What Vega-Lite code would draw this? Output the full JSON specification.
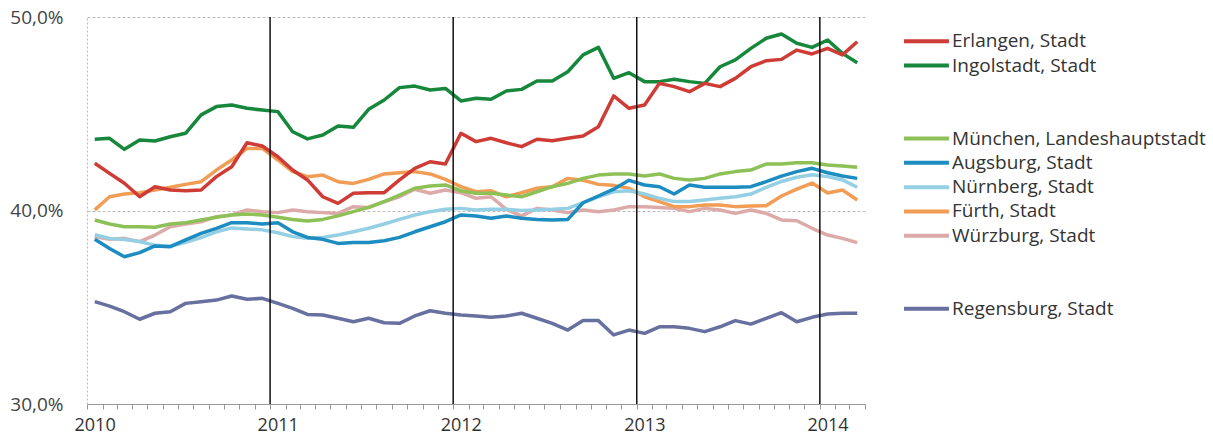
{
  "$schema": "https://vega.github.io/schema/vega-lite/v6.json",
  "background": "white",
  "padding": {"left": 9, "top": 8, "right": 0, "bottom": 0},
  "bounds": "flush",
  "spacing": 39,
  "config": {"view": {"stroke": null}, "font": "Open Sans"},
  "datasets": {
    "shares": [
      {"month":"2010-01","Erlangen, Stadt":42.44,"Ingolstadt, Stadt":43.68,"München, Landeshauptstadt":39.51,"Augsburg, Stadt":38.51,"Nürnberg, Stadt":38.75,"Fürth, Stadt":40.03,"Würzburg, Stadt":38.65,"Regensburg, Stadt":35.29},
      {"month":"2010-02","Erlangen, Stadt":41.92,"Ingolstadt, Stadt":43.73,"München, Landeshauptstadt":39.30,"Augsburg, Stadt":38.04,"Nürnberg, Stadt":38.55,"Fürth, Stadt":40.71,"Würzburg, Stadt":38.51,"Regensburg, Stadt":35.06},
      {"month":"2010-03","Erlangen, Stadt":41.41,"Ingolstadt, Stadt":43.16,"München, Landeshauptstadt":39.16,"Augsburg, Stadt":37.61,"Nürnberg, Stadt":38.50,"Fürth, Stadt":40.85,"Würzburg, Stadt":38.56,"Regensburg, Stadt":34.77},
      {"month":"2010-04","Erlangen, Stadt":40.71,"Ingolstadt, Stadt":43.64,"München, Landeshauptstadt":39.16,"Augsburg, Stadt":37.82,"Nürnberg, Stadt":38.40,"Fürth, Stadt":40.92,"Würzburg, Stadt":38.39,"Regensburg, Stadt":34.38},
      {"month":"2010-05","Erlangen, Stadt":41.23,"Ingolstadt, Stadt":43.59,"München, Landeshauptstadt":39.13,"Augsburg, Stadt":38.17,"Nürnberg, Stadt":38.20,"Fürth, Stadt":41.06,"Würzburg, Stadt":38.73,"Regensburg, Stadt":34.69},
      {"month":"2010-06","Erlangen, Stadt":41.06,"Ingolstadt, Stadt":43.81,"München, Landeshauptstadt":39.30,"Augsburg, Stadt":38.13,"Nürnberg, Stadt":38.15,"Fürth, Stadt":41.20,"Würzburg, Stadt":39.16,"Regensburg, Stadt":34.77},
      {"month":"2010-07","Erlangen, Stadt":41.02,"Ingolstadt, Stadt":43.99,"München, Landeshauptstadt":39.37,"Augsburg, Stadt":38.48,"Nürnberg, Stadt":38.35,"Fürth, Stadt":41.35,"Würzburg, Stadt":39.30,"Regensburg, Stadt":35.20},
      {"month":"2010-08","Erlangen, Stadt":41.06,"Ingolstadt, Stadt":44.94,"München, Landeshauptstadt":39.51,"Augsburg, Stadt":38.82,"Nürnberg, Stadt":38.60,"Fürth, Stadt":41.49,"Würzburg, Stadt":39.42,"Regensburg, Stadt":35.29},
      {"month":"2010-09","Erlangen, Stadt":41.75,"Ingolstadt, Stadt":45.37,"München, Landeshauptstadt":39.65,"Augsburg, Stadt":39.08,"Nürnberg, Stadt":38.90,"Fürth, Stadt":42.09,"Würzburg, Stadt":39.68,"Regensburg, Stadt":35.37},
      {"month":"2010-10","Erlangen, Stadt":42.26,"Ingolstadt, Stadt":45.45,"München, Landeshauptstadt":39.77,"Augsburg, Stadt":39.37,"Nürnberg, Stadt":39.10,"Fürth, Stadt":42.61,"Würzburg, Stadt":39.77,"Regensburg, Stadt":35.58},
      {"month":"2010-11","Erlangen, Stadt":43.50,"Ingolstadt, Stadt":45.28,"München, Landeshauptstadt":39.82,"Augsburg, Stadt":39.37,"Nürnberg, Stadt":39.05,"Fürth, Stadt":43.21,"Würzburg, Stadt":40.03,"Regensburg, Stadt":35.41},
      {"month":"2010-12","Erlangen, Stadt":43.33,"Ingolstadt, Stadt":45.19,"München, Landeshauptstadt":39.77,"Augsburg, Stadt":39.30,"Nürnberg, Stadt":39.00,"Fürth, Stadt":43.21,"Würzburg, Stadt":39.94,"Regensburg, Stadt":35.46},
      {"month":"2011-01","Erlangen, Stadt":42.78,"Ingolstadt, Stadt":45.11,"München, Landeshauptstadt":39.65,"Augsburg, Stadt":39.37,"Nürnberg, Stadt":38.85,"Fürth, Stadt":42.61,"Würzburg, Stadt":39.89,"Regensburg, Stadt":35.20},
      {"month":"2011-02","Erlangen, Stadt":42.09,"Ingolstadt, Stadt":44.07,"München, Landeshauptstadt":39.54,"Augsburg, Stadt":38.90,"Nürnberg, Stadt":38.65,"Fürth, Stadt":42.01,"Würzburg, Stadt":40.03,"Regensburg, Stadt":34.94},
      {"month":"2011-03","Erlangen, Stadt":41.58,"Ingolstadt, Stadt":43.70,"München, Landeshauptstadt":39.46,"Augsburg, Stadt":38.61,"Nürnberg, Stadt":38.56,"Fürth, Stadt":41.75,"Würzburg, Stadt":39.94,"Regensburg, Stadt":34.63},
      {"month":"2011-04","Erlangen, Stadt":40.71,"Ingolstadt, Stadt":43.90,"München, Landeshauptstadt":39.54,"Augsburg, Stadt":38.51,"Nürnberg, Stadt":38.61,"Fürth, Stadt":41.83,"Würzburg, Stadt":39.89,"Regensburg, Stadt":34.60},
      {"month":"2011-05","Erlangen, Stadt":40.37,"Ingolstadt, Stadt":44.37,"München, Landeshauptstadt":39.72,"Augsburg, Stadt":38.30,"Nürnberg, Stadt":38.73,"Fürth, Stadt":41.49,"Würzburg, Stadt":39.85,"Regensburg, Stadt":34.43},
      {"month":"2011-06","Erlangen, Stadt":40.89,"Ingolstadt, Stadt":44.30,"München, Landeshauptstadt":39.94,"Augsburg, Stadt":38.34,"Nürnberg, Stadt":38.90,"Fürth, Stadt":41.40,"Würzburg, Stadt":40.20,"Regensburg, Stadt":34.25},
      {"month":"2011-07","Erlangen, Stadt":40.92,"Ingolstadt, Stadt":45.23,"München, Landeshauptstadt":40.16,"Augsburg, Stadt":38.35,"Nürnberg, Stadt":39.08,"Fürth, Stadt":41.61,"Würzburg, Stadt":40.16,"Regensburg, Stadt":34.43},
      {"month":"2011-08","Erlangen, Stadt":40.92,"Ingolstadt, Stadt":45.71,"München, Landeshauptstadt":40.46,"Augsburg, Stadt":38.44,"Nürnberg, Stadt":39.30,"Fürth, Stadt":41.89,"Würzburg, Stadt":40.46,"Regensburg, Stadt":34.20},
      {"month":"2011-09","Erlangen, Stadt":41.58,"Ingolstadt, Stadt":46.35,"München, Landeshauptstadt":40.80,"Augsburg, Stadt":38.61,"Nürnberg, Stadt":39.54,"Fürth, Stadt":41.95,"Würzburg, Stadt":40.71,"Regensburg, Stadt":34.17},
      {"month":"2011-10","Erlangen, Stadt":42.18,"Ingolstadt, Stadt":46.43,"München, Landeshauptstadt":41.15,"Augsburg, Stadt":38.90,"Nürnberg, Stadt":39.77,"Fürth, Stadt":42.01,"Würzburg, Stadt":41.10,"Regensburg, Stadt":34.55},
      {"month":"2011-11","Erlangen, Stadt":42.52,"Ingolstadt, Stadt":46.23,"München, Landeshauptstadt":41.27,"Augsburg, Stadt":39.16,"Nürnberg, Stadt":39.94,"Fürth, Stadt":41.89,"Würzburg, Stadt":40.89,"Regensburg, Stadt":34.82},
      {"month":"2011-12","Erlangen, Stadt":42.40,"Ingolstadt, Stadt":46.31,"München, Landeshauptstadt":41.32,"Augsburg, Stadt":39.42,"Nürnberg, Stadt":40.06,"Fürth, Stadt":41.61,"Würzburg, Stadt":41.06,"Regensburg, Stadt":34.69},
      {"month":"2012-01","Erlangen, Stadt":43.99,"Ingolstadt, Stadt":45.66,"München, Landeshauptstadt":41.02,"Augsburg, Stadt":39.77,"Nürnberg, Stadt":40.11,"Fürth, Stadt":41.23,"Würzburg, Stadt":40.92,"Regensburg, Stadt":34.60},
      {"month":"2012-02","Erlangen, Stadt":43.56,"Ingolstadt, Stadt":45.80,"München, Landeshauptstadt":40.89,"Augsburg, Stadt":39.72,"Nürnberg, Stadt":40.03,"Fürth, Stadt":40.97,"Würzburg, Stadt":40.63,"Regensburg, Stadt":34.55},
      {"month":"2012-03","Erlangen, Stadt":43.73,"Ingolstadt, Stadt":45.75,"München, Landeshauptstadt":40.89,"Augsburg, Stadt":39.60,"Nürnberg, Stadt":40.06,"Fürth, Stadt":41.02,"Würzburg, Stadt":40.71,"Regensburg, Stadt":34.48},
      {"month":"2012-04","Erlangen, Stadt":43.50,"Ingolstadt, Stadt":46.18,"München, Landeshauptstadt":40.80,"Augsburg, Stadt":39.72,"Nürnberg, Stadt":40.06,"Fürth, Stadt":40.71,"Würzburg, Stadt":40.06,"Regensburg, Stadt":34.55},
      {"month":"2012-05","Erlangen, Stadt":43.30,"Ingolstadt, Stadt":46.26,"München, Landeshauptstadt":40.71,"Augsburg, Stadt":39.60,"Nürnberg, Stadt":40.00,"Fürth, Stadt":40.92,"Würzburg, Stadt":39.72,"Regensburg, Stadt":34.69},
      {"month":"2012-06","Erlangen, Stadt":43.68,"Ingolstadt, Stadt":46.69,"München, Landeshauptstadt":40.97,"Augsburg, Stadt":39.54,"Nürnberg, Stadt":40.03,"Fürth, Stadt":41.15,"Würzburg, Stadt":40.11,"Regensburg, Stadt":34.43},
      {"month":"2012-07","Erlangen, Stadt":43.61,"Ingolstadt, Stadt":46.69,"München, Landeshauptstadt":41.23,"Augsburg, Stadt":39.51,"Nürnberg, Stadt":40.06,"Fürth, Stadt":41.23,"Würzburg, Stadt":40.03,"Regensburg, Stadt":34.17},
      {"month":"2012-08","Erlangen, Stadt":43.73,"Ingolstadt, Stadt":47.17,"München, Landeshauptstadt":41.40,"Augsburg, Stadt":39.54,"Nürnberg, Stadt":40.11,"Fürth, Stadt":41.66,"Würzburg, Stadt":39.89,"Regensburg, Stadt":33.82},
      {"month":"2012-09","Erlangen, Stadt":43.85,"Ingolstadt, Stadt":48.04,"München, Landeshauptstadt":41.66,"Augsburg, Stadt":40.40,"Nürnberg, Stadt":40.41,"Fürth, Stadt":41.56,"Würzburg, Stadt":40.03,"Regensburg, Stadt":34.31},
      {"month":"2012-10","Erlangen, Stadt":44.33,"Ingolstadt, Stadt":48.43,"München, Landeshauptstadt":41.83,"Augsburg, Stadt":40.75,"Nürnberg, Stadt":40.71,"Fürth, Stadt":41.35,"Würzburg, Stadt":39.94,"Regensburg, Stadt":34.31},
      {"month":"2012-11","Erlangen, Stadt":45.92,"Ingolstadt, Stadt":46.83,"München, Landeshauptstadt":41.89,"Augsburg, Stadt":41.10,"Nürnberg, Stadt":40.97,"Fürth, Stadt":41.30,"Würzburg, Stadt":40.03,"Regensburg, Stadt":33.57},
      {"month":"2012-12","Erlangen, Stadt":45.28,"Ingolstadt, Stadt":47.12,"München, Landeshauptstadt":41.89,"Augsburg, Stadt":41.56,"Nürnberg, Stadt":41.02,"Fürth, Stadt":41.15,"Würzburg, Stadt":40.20,"Regensburg, Stadt":33.82},
      {"month":"2013-01","Erlangen, Stadt":45.45,"Ingolstadt, Stadt":46.66,"München, Landeshauptstadt":41.78,"Augsburg, Stadt":41.32,"Nürnberg, Stadt":40.85,"Fürth, Stadt":40.71,"Würzburg, Stadt":40.20,"Regensburg, Stadt":33.65},
      {"month":"2013-02","Erlangen, Stadt":46.57,"Ingolstadt, Stadt":46.66,"München, Landeshauptstadt":41.89,"Augsburg, Stadt":41.23,"Nürnberg, Stadt":40.63,"Fürth, Stadt":40.46,"Würzburg, Stadt":40.16,"Regensburg, Stadt":33.99},
      {"month":"2013-03","Erlangen, Stadt":46.40,"Ingolstadt, Stadt":46.78,"München, Landeshauptstadt":41.66,"Augsburg, Stadt":40.85,"Nürnberg, Stadt":40.46,"Fürth, Stadt":40.20,"Würzburg, Stadt":40.11,"Regensburg, Stadt":33.99},
      {"month":"2013-04","Erlangen, Stadt":46.14,"Ingolstadt, Stadt":46.66,"München, Landeshauptstadt":41.58,"Augsburg, Stadt":41.32,"Nürnberg, Stadt":40.46,"Fürth, Stadt":40.20,"Würzburg, Stadt":39.94,"Regensburg, Stadt":33.91},
      {"month":"2013-05","Erlangen, Stadt":46.57,"Ingolstadt, Stadt":46.57,"München, Landeshauptstadt":41.66,"Augsburg, Stadt":41.20,"Nürnberg, Stadt":40.54,"Fürth, Stadt":40.28,"Würzburg, Stadt":40.11,"Regensburg, Stadt":33.74},
      {"month":"2013-06","Erlangen, Stadt":46.40,"Ingolstadt, Stadt":47.43,"München, Landeshauptstadt":41.89,"Augsburg, Stadt":41.20,"Nürnberg, Stadt":40.63,"Fürth, Stadt":40.28,"Würzburg, Stadt":40.03,"Regensburg, Stadt":33.99},
      {"month":"2013-07","Erlangen, Stadt":46.83,"Ingolstadt, Stadt":47.78,"München, Landeshauptstadt":42.01,"Augsburg, Stadt":41.20,"Nürnberg, Stadt":40.71,"Fürth, Stadt":40.20,"Würzburg, Stadt":39.85,"Regensburg, Stadt":34.31},
      {"month":"2013-08","Erlangen, Stadt":47.43,"Ingolstadt, Stadt":48.38,"München, Landeshauptstadt":42.09,"Augsburg, Stadt":41.23,"Nürnberg, Stadt":40.85,"Fürth, Stadt":40.23,"Würzburg, Stadt":40.03,"Regensburg, Stadt":34.13},
      {"month":"2013-09","Erlangen, Stadt":47.74,"Ingolstadt, Stadt":48.90,"München, Landeshauptstadt":42.40,"Augsburg, Stadt":41.49,"Nürnberg, Stadt":41.19,"Fürth, Stadt":40.25,"Würzburg, Stadt":39.85,"Regensburg, Stadt":34.43},
      {"month":"2013-10","Erlangen, Stadt":47.81,"Ingolstadt, Stadt":49.12,"München, Landeshauptstadt":42.40,"Augsburg, Stadt":41.78,"Nürnberg, Stadt":41.50,"Fürth, Stadt":40.75,"Würzburg, Stadt":39.51,"Regensburg, Stadt":34.72},
      {"month":"2013-11","Erlangen, Stadt":48.29,"Ingolstadt, Stadt":48.64,"München, Landeshauptstadt":42.47,"Augsburg, Stadt":42.01,"Nürnberg, Stadt":41.72,"Fürth, Stadt":41.10,"Würzburg, Stadt":39.47,"Regensburg, Stadt":34.25},
      {"month":"2013-12","Erlangen, Stadt":48.09,"Ingolstadt, Stadt":48.43,"München, Landeshauptstadt":42.47,"Augsburg, Stadt":42.18,"Nürnberg, Stadt":41.85,"Fürth, Stadt":41.42,"Würzburg, Stadt":39.08,"Regensburg, Stadt":34.48},
      {"month":"2014-01","Erlangen, Stadt":48.38,"Ingolstadt, Stadt":48.81,"München, Landeshauptstadt":42.35,"Augsburg, Stadt":41.95,"Nürnberg, Stadt":41.75,"Fürth, Stadt":40.90,"Würzburg, Stadt":38.73,"Regensburg, Stadt":34.65},
      {"month":"2014-02","Erlangen, Stadt":48.04,"Ingolstadt, Stadt":48.12,"München, Landeshauptstadt":42.30,"Augsburg, Stadt":41.78,"Nürnberg, Stadt":41.58,"Fürth, Stadt":41.06,"Würzburg, Stadt":38.56,"Regensburg, Stadt":34.69},
      {"month":"2014-03","Erlangen, Stadt":48.72,"Ingolstadt, Stadt":47.64,"München, Landeshauptstadt":42.23,"Augsburg, Stadt":41.66,"Nürnberg, Stadt":41.20,"Fürth, Stadt":40.54,"Würzburg, Stadt":38.34,"Regensburg, Stadt":34.69}
    ],
    "years": [{"year":"2011-01"},{"year":"2012-01"},{"year":"2013-01"},{"year":"2014-01"}],
    "legend": [
      {"city":"Erlangen, Stadt"},{"city":"Ingolstadt, Stadt"},{"city":"München, Landeshauptstadt"},{"city":"Augsburg, Stadt"},
      {"city":"Nürnberg, Stadt"},{"city":"Fürth, Stadt"},{"city":"Würzburg, Stadt"},{"city":"Regensburg, Stadt"}
    ]
  },
  "hconcat": [
    {
      "width": 778,
      "height": 387,
      "layer": [
        {
          "data": {"name": "shares"},
          "transform": [{"fold": ["Regensburg, Stadt","Würzburg, Stadt","Fürth, Stadt","Nürnberg, Stadt","Augsburg, Stadt","München, Landeshauptstadt","Ingolstadt, Stadt","Erlangen, Stadt"], "as": ["city","share"]}],
          "mark": {"type": "line", "strokeWidth": 3.5, "strokeJoin": "round"},
          "encoding": {
            "x": {
              "field": "month", "type": "temporal", "timeUnit": "utcyearmonth", "bandPosition": 0.5,
              "scale": {"type": "utc", "domain": [{"year":2010,"month":1,"date":1,"utc":true},{"year":2014,"month":4,"date":1,"utc":true}], "nice": false},
              "axis": {
                "title": null, "grid": false,
                "tickCount": {"interval": "month", "step": 1},
                "labelExpr": "utcmonth(datum.value) == 0 ? utcFormat(datum.value, '%Y') : ''",
                "labelOffset": 7.6, "labelOverlap": false, "labelFlush": false, "labelBound": false,
                "domainColor": "#999", "tickColor": "#999", "tickSize": 5,
                "labelFontSize": 18, "labelColor": "#333", "labelPadding": 7
              }
            },
            "y": {
              "field": "share", "type": "quantitative",
              "scale": {"domain": [30, 50], "nice": false, "zero": false},
              "axis": {
                "title": null, "values": [30, 40, 50],
                "labelExpr": "replace(format(datum.value, '.1f'), '.', ',') + '%'",
                "ticks": false, "labelPadding": 24, "labelFontSize": 19, "labelColor": "#444",
                "grid": true, "gridColor": "#bbb", "gridDash": [3, 2],
                "domainColor": "#bbb", "domainDash": [2, 2]
              }
            },
            "color": {
              "field": "city", "type": "nominal", "legend": null,
              "scale": {
                "domain": ["Erlangen, Stadt","Ingolstadt, Stadt","München, Landeshauptstadt","Augsburg, Stadt","Nürnberg, Stadt","Fürth, Stadt","Würzburg, Stadt","Regensburg, Stadt"],
                "range": ["#cf3b35","#17873c","#8dc056","#1d8cc0","#94cfe3","#f19d55","#dcaaa8","#67709f"]
              }
            }
          }
        },
        {
          "data": {"name": "years"},
          "mark": {"type": "rule", "color": "#111", "strokeWidth": 1.5},
          "encoding": {
            "x": {"field": "year", "type": "temporal", "timeUnit": "utcyearmonth"}
          }
        }
      ]
    },
    {
      "width": 310,
      "height": 316,
      "data": {"name": "legend"},
      "encoding": {
        "y": {
          "field": "city", "type": "nominal", "axis": null,
          "scale": {"type": "point", "padding": 1.083, "domain": ["Erlangen, Stadt","Ingolstadt, Stadt"," ","  ","München, Landeshauptstadt","Augsburg, Stadt","Nürnberg, Stadt","Fürth, Stadt","Würzburg, Stadt","   ","    ","Regensburg, Stadt"]}
        }
      },
      "layer": [
        {
          "mark": {"type": "rule", "strokeWidth": 4},
          "encoding": {
            "x": {"datum": 0, "type": "quantitative", "scale": {"domain": [0, 1], "nice": false, "zero": false}, "axis": null},
            "x2": {"datum": 0.145},
            "color": {
              "field": "city", "type": "nominal", "legend": null,
              "scale": {
                "domain": ["Erlangen, Stadt","Ingolstadt, Stadt","München, Landeshauptstadt","Augsburg, Stadt","Nürnberg, Stadt","Fürth, Stadt","Würzburg, Stadt","Regensburg, Stadt"],
                "range": ["#cf3b35","#17873c","#8dc056","#1d8cc0","#94cfe3","#f19d55","#dcaaa8","#67709f"]
              }
            }
          }
        },
        {
          "mark": {"type": "text", "align": "left", "baseline": "middle", "fontSize": 19, "color": "#333"},
          "encoding": {
            "x": {"datum": 0.155, "type": "quantitative", "axis": null},
            "text": {"field": "city"}
          }
        }
      ]
    }
  ]
}
